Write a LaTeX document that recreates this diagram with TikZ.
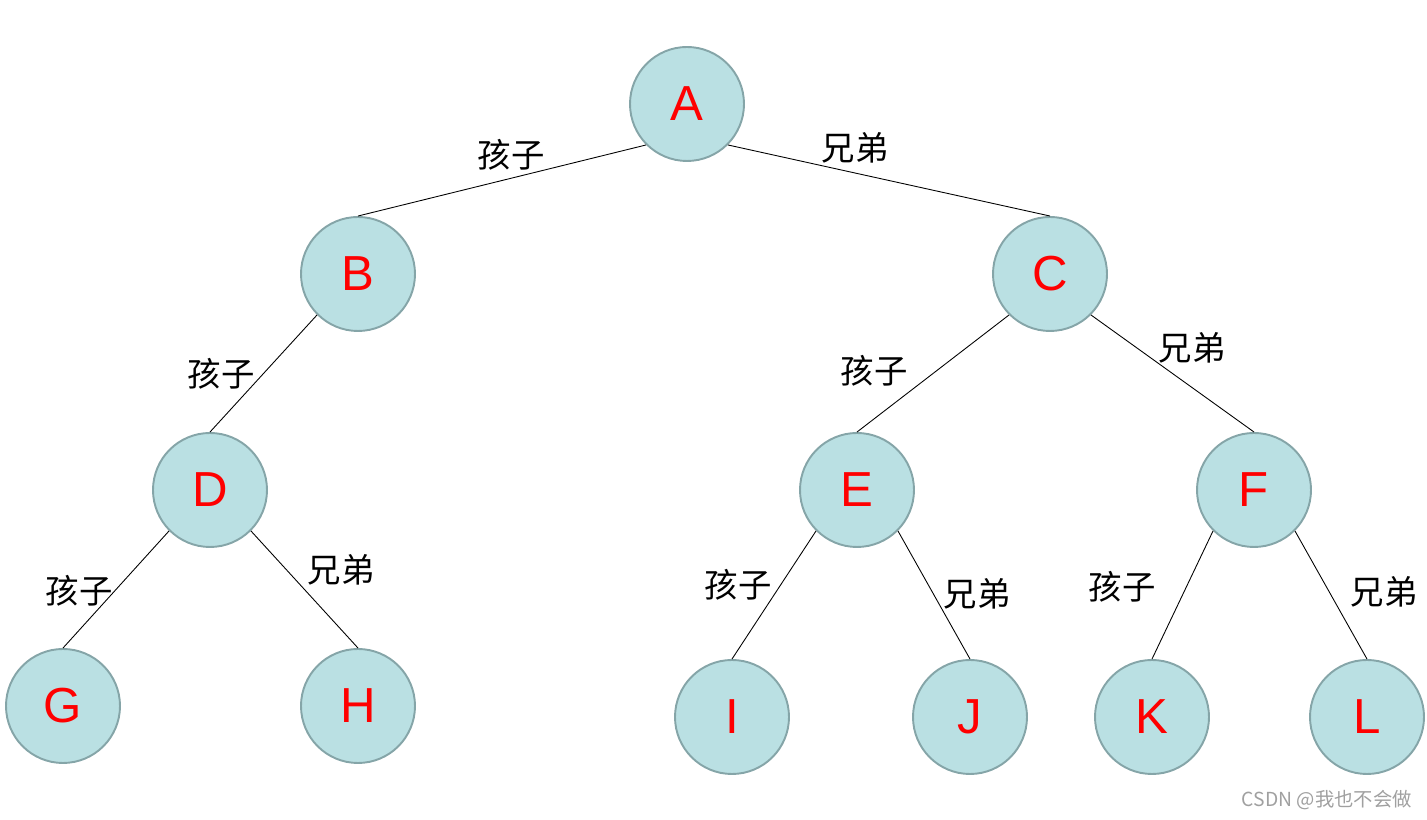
\documentclass[tikz,border=0pt]{standalone}
\usepackage{fontspec}
\usetikzlibrary{positioning}
\setmainfont{Liberation Sans}
\newfontfamily\cjk{Noto Sans CJK SC}
\definecolor{nodefill}{HTML}{BAE0E3}
\definecolor{nodeline}{HTML}{85A5A8}
\definecolor{marktext}{HTML}{A0A0A0}

\begin{document}
\begin{tikzpicture}[
    tnode/.style={circle, draw=nodeline, line width=1.1pt, fill=nodefill, minimum size=2.28cm, inner sep=0pt, text=red, font=\fontsize{28}{28}\selectfont},
    rel/.style={font=\cjk\fontsize{19}{19}\selectfont, inner sep=0pt},
    link/.style={line width=0.5pt, black},
]
\useasboundingbox (0,0) rectangle (28.54,16.4);

% Nodes of the tree
\node[tnode] (a) at (13.74, 14.32) {A};
\node[tnode] (b) at (7.16, 10.92) {B};
\node[tnode] (c) at (21.0, 10.92) {C};
\node[tnode] (d) at (4.2, 6.6) {D};
\node[tnode] (e) at (17.14, 6.6) {E};
\node[tnode] (f) at (25.08, 6.6) {F};
\node[tnode] (g) at (1.26, 2.28) {G};
\node[tnode] (h) at (7.16, 2.28) {H};
\node[tnode] (i) at (14.64, 2.06) {I};
\node[tnode] (j) at (19.4, 2.06) {J};
\node[tnode] (k) at (23.04, 2.06) {K};
\node[tnode] (l) at (27.34, 2.06) {L};

% Links
\draw[link] (a.south west) -- (b.north);
\draw[link] (a.south east) -- (c.north);
\draw[link] (b.south west) -- (d.north);
\draw[link] (c.south west) -- (e.north);
\draw[link] (c.south east) -- (f.north);
\draw[link] (d.south west) -- (g.north);
\draw[link] (d.south east) -- (h.north);
\draw[link] (e.south west) -- (i.north);
\draw[link] (e.south east) -- (j.north);
\draw[link] (f.south west) -- (k.north);
\draw[link] (f.south east) -- (l.north);

% Labels
\node[rel] (ab) at (10.22, 13.3) {孩子};
\node[rel] (ac) at (17.1, 13.44) {兄弟};
\node[rel] (bd) at (4.42, 8.92) {孩子};
\node[rel] (ce) at (17.48, 8.98) {孩子};
\node[rel] (cf) at (23.84, 9.44) {兄弟};
\node[rel] (dg) at (1.58, 4.58) {孩子};
\node[rel] (dh) at (6.82, 5.0) {兄弟};
\node[rel] (ei) at (14.76, 4.7) {孩子};
\node[rel] (ej) at (19.54, 4.52) {兄弟};
\node[rel] (fk) at (22.44, 4.66) {孩子};
\node[rel] (fl) at (27.68, 4.56) {兄弟};

% Watermark
\node[font=\cjk\fontsize{11}{11}\selectfont, text=marktext, anchor=east, inner sep=0pt] (mark) at (28.24, 0.4) {CSDN @我也不会做};

\end{tikzpicture}
\end{document}
